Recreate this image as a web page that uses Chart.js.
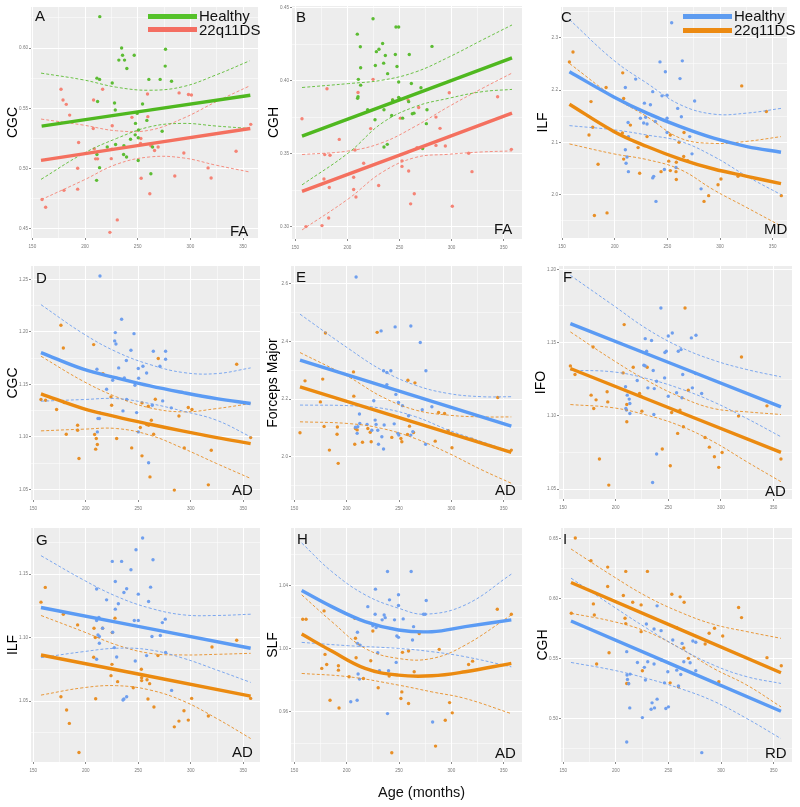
<!DOCTYPE html>
<html>
<head>
<meta charset="utf-8">
<script src="https://cdn.jsdelivr.net/npm/chart.js@4.4.1/dist/chart.umd.min.js"></script>
<style>
body{margin:0;background:#fff;width:800px;height:807px;position:relative;overflow:hidden;font-family:"Liberation Sans",Arial,sans-serif}
.box{position:absolute}
.txt{position:absolute;font-size:15px;line-height:1;color:#111;white-space:nowrap}
.sw{position:absolute;width:49px;height:5px}
</style>
</head>
<body>
<script>
// age ticks shared by every panel
const ageTicks = [150, 200, 250, 300, 350];

// ---- A : CGC FA ----
const aTicks = [0.45, 0.50, 0.55, 0.60];
const aHealthy = [[214,0.626],[234.7,0.600],[235.6,0.594],[232.1,0.590],[237.5,0.590],[246.7,0.594],[276.4,0.599],[276.1,0.585],[239.7,0.583],[211.3,0.575],[213.8,0.574],[225.8,0.571],[260.6,0.574],[271.3,0.574],[282.1,0.5725],[228,0.5544],[211.9,0.5556],[254.6,0.5536],[228.7,0.5486],[249.5,0.5458],[258.7,0.540],[247.9,0.5375],[273.2,0.531],[250.8,0.532],[247.6,0.528],[250.5,0.5256],[243.2,0.5244],[236.9,0.519],[221.1,0.518],[229,0.520],[264.1,0.518],[211.3,0.5117],[236.6,0.5117],[239.4,0.5097],[250.5,0.5067],[213.8,0.5008],[262.5,0.4958],[211,0.4903]];
const aPatient = [[177.2,0.5658],[179.1,0.5569],[182.2,0.5533],[185.4,0.5444],[208.1,0.5569],[216.7,0.5658],[207.8,0.5333],[225.8,0.5356],[244.5,0.5425],[259.3,0.5619],[259.6,0.5431],[289.3,0.5628],[298.2,0.5614],[301,0.5611],[357.3,0.5367],[193.9,0.5217],[208.8,0.5164],[210,0.5081],[211.9,0.5081],[224.9,0.5083],[225.5,0.5161],[253,0.525],[252.7,0.5208],[262.5,0.5189],[266,0.515],[269.4,0.518],[193,0.5003],[253.3,0.492],[293.8,0.513],[285.2,0.4939],[316.8,0.5006],[319.7,0.4922],[343.4,0.5144],[180,0.482],[193,0.483],[159.2,0.4744],[162.6,0.468],[261.5,0.4792],[230.6,0.4575],[223.6,0.4472]];
const aHealthyFit = [[158.8,0.5353],[356.9,0.5608]];
const aHealthyHi = [[158.2,0.5792],[198.3,0.5736],[229.9,0.5675],[261.5,0.565],[293.1,0.568],[324.7,0.5778],[356.3,0.5894]];
const aHealthyLo = [[158.2,0.4911],[198.3,0.5125],[229.9,0.525],[261.5,0.5347],[293.1,0.5375],[324.7,0.5353],[356.3,0.5333]];
const aPatientFit = [[158.2,0.5069],[356.9,0.5333]];
const aPatientHi = [[158.2,0.5411],[198.3,0.5361],[229.9,0.5314],[261.5,0.5319],[293.1,0.5417],[324.7,0.5556],[356.3,0.5686]];
const aPatientLo = [[158.2,0.4742],[198.3,0.4903],[229.9,0.5036],[261.5,0.5097],[293.1,0.5089],[324.7,0.5028],[356.3,0.4972]];

// ---- B : CGH FA ----
const bTicks = [0.30, 0.35, 0.40, 0.45];
const bHealthy = [[224.6,0.4426],[249.2,0.4369],[246.6,0.4369],[209.5,0.4320],[233.8,0.4256],[212.4,0.4234],[230.3,0.4216],[227.8,0.4200],[281.2,0.4236],[236.4,0.4173],[246,0.4180],[259.4,0.4180],[234.8,0.4121],[226.8,0.4105],[247.6,0.4098],[212.7,0.4089],[238.6,0.4049],[210.5,0.4010],[249.2,0.3992],[212.7,0.3970],[261.4,0.3981],[270.6,0.3952],[210.2,0.3891],[209.8,0.3880],[249.2,0.3886],[250.2,0.3877],[258.8,0.3857],[243.4,0.3868],[235.1,0.3801],[219.4,0.3801],[263.9,0.3778],[262.3,0.3774],[276.4,0.3801],[242.5,0.3762],[226.5,0.3733],[253,0.3744],[275.8,0.3706],[238.3,0.3564],[235.1,0.3546],[272.2,0.3535]];
const bPatient = [[156.4,0.3740],[180.4,0.3945],[224.6,0.4010],[210.2,0.3920],[243.4,0.3868],[258.2,0.3868],[268.4,0.3817],[285,0.3751],[297.8,0.3918],[344.2,0.3891],[222.3,0.3672],[192.2,0.3598],[207.3,0.3525],[178.2,0.3494],[183.3,0.3489],[215.6,0.3435],[252.4,0.3451],[252.4,0.3413],[258.8,0.3381],[266.8,0.3541],[285,0.3557],[288.9,0.3674],[294,0.3553],[316.4,0.3503],[357.4,0.3530],[177.5,0.3327],[206,0.3338],[230,0.3282],[182.6,0.3268],[206,0.3255],[208.2,0.3203],[264.2,0.3225],[260.7,0.3156],[319.6,0.3377],[300.7,0.3140],[182,0.3059],[160.2,0.3000],[175.6,0.3007],[250.8,0.3744]];
const bHealthyFit = [[156.4,0.3620],[358,0.4157]];
const bHealthyHi = [[156.4,0.3954],[201.2,0.3981],[233.2,0.4004],[265.2,0.4060],[297.2,0.4162],[329.2,0.4279],[358,0.4383]];
const bHealthyLo = [[156.4,0.3286],[201.2,0.3507],[233.2,0.3710],[265.2,0.3823],[297.2,0.3880],[329.2,0.3925],[358,0.3941]];
const bPatientFit = [[156.4,0.3241],[358,0.3778]];
const bPatientHi = [[156.4,0.3494],[201.2,0.3519],[233.2,0.3575],[265.2,0.3688],[297.2,0.3823],[329.2,0.3947],[358,0.4053]];
const bPatientLo = [[156.4,0.2977],[201.2,0.3192],[233.2,0.3372],[265.2,0.3474],[297.2,0.3496],[329.2,0.3512],[358,0.3519]];

// ---- C : ILF MD ----
const cTicks = [2.0, 2.1, 2.2, 2.3];
const cHealthy = [[254.1,2.329],[243,2.254],[264.2,2.256],[248.1,2.235],[262,2.222],[219.9,2.221],[210.1,2.205],[236.1,2.197],[244.9,2.189],[249.7,2.190],[275.9,2.179],[228.2,2.175],[233.9,2.172],[259.8,2.165],[263.3,2.149],[249.7,2.146],[229.4,2.148],[224.4,2.146],[227.5,2.137],[230.7,2.135],[238.6,2.140],[212.7,2.138],[213,2.111],[249.7,2.119],[271.2,2.111],[210.1,2.086],[211.7,2.072],[210.8,2.060],[213,2.044],[237,2.035],[236.1,2.032],[247.2,2.048],[258.2,2.052],[273.4,2.078],[282,2.011],[239.2,1.987]];
const cPatient = [[160.4,2.273],[157,2.254],[207.6,2.233],[191.8,2.205],[208.5,2.184],[177.5,2.178],[179.1,2.129],[175.6,2.114],[214.9,2.133],[207.3,2.118],[222.2,2.090],[230.7,2.111],[252.8,2.114],[261.1,2.100],[265.8,2.119],[269.3,2.065],[251.3,2.064],[258.5,2.062],[252.8,2.046],[258.2,2.044],[258.5,2.029],[244,2.044],[223.7,2.041],[208.5,2.068],[184.2,2.058],[320.6,2.208],[344,2.159],[317.1,2.035],[300.9,2.030],[298.1,2.019],[289.2,1.998],[284.8,1.987],[358.2,1.998],[180.7,1.960],[192.7,1.965],[265.5,2.073]];
const cHealthyFit = [[157,2.235],[199.1,2.187],[230.7,2.156],[262.3,2.130],[294,2.108],[325.6,2.092],[357.9,2.081]];
const cHealthyHi = [[157,2.335],[199.1,2.257],[230.7,2.213],[262.3,2.172],[294,2.154],[325.6,2.156],[357.9,2.165]];
const cHealthyLo = [[157,2.132],[199.1,2.124],[230.7,2.114],[262.3,2.102],[294,2.073],[325.6,2.035],[357.9,2.000]];
const cPatientFit = [[157,2.173],[199.1,2.121],[230.7,2.092],[262.3,2.068],[294,2.049],[325.6,2.035],[357.9,2.021]];
const cPatientHi = [[157,2.251],[199.1,2.187],[230.7,2.149],[262.3,2.108],[294,2.098],[325.6,2.102],[357.9,2.111]];
const cPatientLo = [[157,2.097],[199.1,2.078],[230.7,2.067],[262.3,2.048],[294,2.009],[325.6,1.975],[357.9,1.940]];

// ---- D : CGC AD ----
const dTicks = [1.05, 1.10, 1.15, 1.20, 1.25];
const dHealthy = [[213.5,1.2532],[234.1,1.2120],[228.1,1.1993],[245.9,1.1983],[227.5,1.1914],[228.7,1.1885],[243,1.1825],[238.6,1.1727],[231.3,1.1657],[250,1.1651],[254.4,1.1673],[264.3,1.1815],[276,1.1815],[276,1.1739],[270.6,1.1673],[257.9,1.1609],[225.6,1.1540],[236.7,1.1562],[236.3,1.1549],[250.3,1.1559],[246.8,1.1492],[219.8,1.1454],[238.9,1.1356],[263.3,1.1302],[273.2,1.1343],[248.4,1.1232],[235.4,1.1248],[212.9,1.1232],[211.6,1.1175],[212.9,1.1175],[211,1.1048],[250,1.1048],[281.4,1.1277],[259.8,1.0754],[210.6,1.1644]];
const dPatient = [[176.3,1.2063],[207.5,1.1879],[178.6,1.1847],[216.3,1.1603],[157.3,1.1356],[161.7,1.1349],[179.5,1.1327],[172.2,1.1261],[224,1.1381],[224.6,1.1302],[253.5,1.1324],[259.5,1.1292],[266.2,1.1359],[269,1.1746],[297.6,1.1280],[301.1,1.1261],[288.7,1.1200],[343.7,1.1692],[357,1.0994],[181.4,1.1026],[192.2,1.1112],[192.2,1.1064],[208.4,1.1023],[210,1.0985],[211,1.0928],[209.4,1.0884],[229.4,1.0985],[243.7,1.0896],[253.5,1.0820],[251.9,1.1090],[257.9,1.1118],[262.4,1.1159],[264.6,1.1026],[259.8,1.1112],[293.8,1.0896],[319.5,1.0874],[193.5,1.0795],[261.1,1.0620],[284.3,1.0494],[316.7,1.0544]];
const dHealthyFit = [[157.3,1.1803],[197.6,1.1645],[229.4,1.1562],[261.1,1.1486],[292.9,1.1422],[324.6,1.1365],[357,1.1318]];
const dHealthyHi = [[157.3,1.2259],[197.6,1.1983],[229.4,1.1809],[261.1,1.1689],[292.9,1.1613],[324.6,1.1603],[357,1.1657]];
const dHealthyLo = [[157.3,1.1340],[197.6,1.1356],[229.4,1.1365],[261.1,1.1318],[292.9,1.1245],[324.6,1.1159],[357,1.1001]];
const dPatientFit = [[157.3,1.1410],[197.6,1.1270],[229.4,1.1191],[261.1,1.1121],[292.9,1.1055],[324.6,1.0994],[357,1.0937]];
const dPatientHi = [[157.3,1.1768],[197.6,1.1530],[229.4,1.1381],[261.1,1.1277],[292.9,1.1239],[324.6,1.1270],[357,1.1318]];
const dPatientLo = [[157.3,1.1058],[197.6,1.1074],[229.4,1.1080],[261.1,1.1017],[292.9,1.0890],[324.6,1.0747],[357,1.0605]];

// ---- E : Forceps Major AD ----
const eTicks = [2.0, 2.2, 2.4, 2.6];
const eHealthy = [[209,2.623],[246.3,2.450],[261.3,2.453],[232.9,2.436],[270.3,2.396],[235.2,2.298],[238.4,2.292],[242.2,2.298],[275.7,2.298],[238.4,2.250],[247,2.216],[249.5,2.188],[253.3,2.177],[225.9,2.194],[259.1,2.142],[281.4,2.173],[272.2,2.163],[212.2,2.148],[212.5,2.115],[210.6,2.104],[208.4,2.102],[210,2.081],[219.5,2.112],[227.2,2.127],[228.1,2.112],[229.7,2.092],[235.8,2.110],[245.4,2.114],[248.9,2.081],[249.8,2.075],[263.2,2.087],[261.3,2.075],[233.6,2.069],[230.4,2.043],[235.2,2.027],[275.4,2.043],[224,2.092]];
const ePatient = [[179.7,2.429],[229.1,2.431],[206.5,2.294],[177.1,2.269],[160.2,2.263],[258.5,2.265],[265.2,2.256],[206.8,2.210],[174.9,2.190],[178.4,2.105],[191.1,2.103],[190.8,2.078],[155.4,2.083],[207.7,2.043],[183.5,2.023],[191.9,1.977],[215.1,2.050],[223.4,2.052],[222.5,2.085],[220.2,2.098],[243.1,2.067],[251.8,2.063],[252.7,2.052],[260,2.106],[263.9,2.084],[258.1,2.077],[284.6,2.054],[287.8,2.153],[293.5,2.150],[297,2.090],[300.6,2.031],[319.7,2.061],[344.3,2.205],[357.3,2.023],[208.4,2.098],[210,2.093]];
const eHealthyFit = [[155.4,2.335],[357.3,2.106]];
const eHealthyHi = [[155.4,2.494],[201.7,2.375],[233.6,2.300],[265.5,2.248],[297.4,2.219],[329.3,2.208],[357.3,2.208]];
const eHealthyLo = [[155.4,2.179],[201.7,2.177],[233.6,2.168],[265.5,2.139],[297.4,2.092],[329.3,2.052],[357.3,2.017]];
const ePatientFit = [[155.4,2.242],[357.3,2.015]];
const ePatientHi = [[155.4,2.361],[201.7,2.277],[233.6,2.208],[265.5,2.162],[297.4,2.144],[329.3,2.138],[357.3,2.138]];
const ePatientLo = [[155.4,2.121],[201.7,2.115],[233.6,2.098],[265.5,2.063],[297.4,2.012],[329.3,1.954],[357.3,1.908]];

// ---- F : IFO AD ----
const fTicks = [1.05, 1.10, 1.15, 1.20];
const fHealthy = [[243,1.1736],[250,1.1545],[253.8,1.1566],[271.9,1.1532],[276.3,1.1550],[228.1,1.1527],[234.1,1.1514],[229.4,1.1441],[246.8,1.1432],[248.1,1.1441],[259.5,1.1441],[262.1,1.1452],[226.8,1.1345],[228.1,1.1341],[235.7,1.1309],[246.5,1.1259],[263.7,1.1282],[276,1.1289],[220.5,1.1241],[238.9,1.1236],[230.6,1.1191],[236.7,1.1186],[209.4,1.1198],[211,1.1141],[212.9,1.1114],[250,1.1134],[257.9,1.1157],[263,1.1123],[272.9,1.1191],[281.7,1.1152],[209.7,1.1050],[210.3,1.1039],[213.5,1.1016],[236.3,1.1009],[238.9,1.0739],[235.1,1.0545],[213.5,1.1084]];
const fPatient = [[208.1,1.1623],[265.9,1.1736],[319.5,1.1402],[178.6,1.1470],[157,1.1341],[161.4,1.1282],[207.1,1.1293],[216.7,1.1332],[230,1.1332],[222.7,1.1152],[176.7,1.1141],[181.4,1.1109],[179.2,1.1050],[191.9,1.1164],[192.5,1.1095],[210.6,1.1077],[210.6,1.0959],[224.9,1.1032],[253.2,1.1023],[261.1,1.1039],[269,1.1175],[264.3,1.0925],[258.9,1.0880],[284.9,1.0852],[289,1.0786],[293.8,1.0720],[297.9,1.0648],[301.1,1.0750],[316.7,1.0998],[343.7,1.1068],[357,1.0705],[244.3,1.0773],[251.9,1.0659],[184.6,1.0705],[193.5,1.0527],[224,1.1134]];
const fHealthyFit = [[157,1.1630],[357,1.1061]];
const fHealthyHi = [[157,1.1959],[197.6,1.1755],[229.4,1.1595],[261.1,1.1470],[292.9,1.1380],[324.6,1.1316],[357,1.1266]];
const fHealthyLo = [[157,1.1311],[197.6,1.1300],[229.4,1.1255],[261.1,1.1186],[292.9,1.1095],[324.6,1.0982],[357,1.0857]];
const fPatientFit = [[157,1.1323],[357,1.0750]];
const fPatientHi = [[157,1.1573],[197.6,1.1380],[229.4,1.1243],[261.1,1.1130],[292.9,1.1050],[324.6,1.1027],[357,1.1009]];
const fPatientLo = [[157,1.1077],[197.6,1.1055],[229.4,1.1005],[261.1,1.0932],[292.9,1.0823],[324.6,1.0686],[357,1.0550]];

// ---- G : ILF AD ----
const gTicks = [1.05, 1.10, 1.15];
const gHealthy = [[254.1,1.1784],[247.8,1.1692],[225.2,1.1600],[234.1,1.1600],[264,1.1613],[243,1.1534],[228.1,1.1442],[261.7,1.1397],[210.3,1.1382],[238.9,1.1384],[236.3,1.1355],[250,1.1342],[219.8,1.1297],[259.8,1.1284],[231,1.1266],[228.1,1.1224],[212.5,1.1158],[210.3,1.1134],[246.2,1.1134],[250,1.1134],[275.7,1.1145],[272.9,1.1118],[216,1.1074],[225.6,1.1042],[211.6,1.1021],[212.9,1.1008],[263,1.1008],[271,1.1016],[212.9,1.0955],[227.1,1.0921],[210.3,1.0829],[247.1,1.0816],[257.9,1.0858],[276,1.0882],[229.4,1.0847],[281.7,1.0584],[238.9,1.0534],[236.3,1.0516],[235.4,1.0508]];
const gPatient = [[161.4,1.1395],[157.3,1.1279],[178.6,1.1184],[192.2,1.1100],[207.8,1.1074],[216,1.1074],[225.2,1.1039],[209,1.1000],[207.5,1.0845],[224.9,1.0789],[224,1.0700],[230.3,1.0653],[245.2,1.0605],[252.9,1.0750],[253.2,1.0684],[253.2,1.0661],[258.3,1.0668],[260.8,1.0637],[268.7,1.0858],[320.2,1.0926],[343.7,1.0979],[176.3,1.0534],[209.4,1.0518],[181.7,1.0429],[184.3,1.0324],[193.5,1.0095],[259.2,1.0516],[264.9,1.0453],[293.5,1.0424],[300.8,1.0521],[288.7,1.0342],[284.3,1.0297],[297.6,1.0350],[316.7,1.0382],[357,1.0521],[227.8,1.1153]];
const gHealthyFit = [[157.3,1.1237],[357,1.0916]];
const gHealthyHi = [[157.3,1.1645],[197.6,1.1455],[229.4,1.1324],[261.1,1.1232],[292.9,1.1179],[324.6,1.1174],[357,1.1184]];
const gHealthyLo = [[157.3,1.0842],[197.6,1.0889],[229.4,1.0916],[261.1,1.0903],[292.9,1.0837],[324.6,1.0745],[357,1.0647]];
const gPatientFit = [[157.3,1.0863],[357,1.0539]];
const gPatientHi = [[157.3,1.1174],[197.6,1.1047],[229.4,1.0942],[261.1,1.0876],[292.9,1.0863],[324.6,1.0868],[357,1.0876]];
const gPatientLo = [[157.3,1.0547],[197.6,1.0605],[229.4,1.0621],[261.1,1.0587],[292.9,1.0500],[324.6,1.0363],[357,1.0205]];

// ---- H : SLF AD ----
const hTicks = [0.96, 1.00, 1.04];
const hHealthy = [[239,1.0491],[261.6,1.0491],[227.5,1.0379],[240.9,1.0311],[249.5,1.0343],[249.5,1.0275],[276,1.0307],[220.2,1.0268],[227.2,1.0220],[235.8,1.0215],[236.8,1.0198],[233.9,1.0184],[245.7,1.0184],[254,1.0190],[275,1.0220],[273.4,1.0220],[225,1.0147],[228.1,1.0135],[210.3,1.0105],[263.9,1.0141],[247.9,1.0082],[249.5,1.0073],[262.9,1.0056],[210.3,1.0035],[212.8,1.0024],[229.7,0.9976],[247.3,0.9914],[240,0.9861],[231.3,0.9861],[210.9,0.9840],[212.2,0.9808],[210,0.9674],[203.9,0.9664],[239,0.9589],[282.1,0.9536]];
const hPatient = [[158,1.0188],[161.2,1.0188],[178.4,1.0241],[207.7,1.0194],[225,1.0113],[208.4,1.0067],[179.3,0.9965],[180.9,0.9901],[176.2,0.9876],[192.1,0.9893],[192.1,0.9865],[209,0.9944],[223,0.9925],[216,0.9812],[230.1,0.9753],[240.6,0.9827],[253.3,0.9978],[259.1,0.9986],[264.5,0.9855],[269.3,1.0097],[288.4,0.9997],[316.5,0.9901],[320.3,0.9922],[343.9,1.0251],[357.3,1.0220],[252.7,0.9727],[251.8,0.9685],[259.1,0.9653],[184.1,0.9674],[192.7,0.9625],[298.3,0.9659],[300.9,0.9594],[294.2,0.9547],[284.9,0.9383],[243.1,0.9341],[202.3,0.9823]];
const hHealthyFit = [[157,1.0370],[185.7,1.0268],[217.6,1.0173],[249.5,1.0120],[281.4,1.0109],[313.3,1.0141],[357.3,1.0184]];
const hHealthyHi = [[157,1.0672],[185.7,1.0491],[217.6,1.0343],[249.5,1.0258],[275,1.0220],[313.3,1.0279],[357.3,1.0474]];
const hHealthyLo = [[157,1.0041],[201.7,1.0020],[249.5,1.0003],[281.4,0.9982],[313.3,0.9950],[357.3,0.9886]];
const hPatientFit = [[157,1.0094],[185.7,0.9986],[217.6,0.9876],[249.5,0.9833],[281.4,0.9829],[313.3,0.9855],[357.3,0.9908]];
const hPatientHi = [[157,1.0343],[185.7,1.0173],[217.6,1.0003],[249.5,0.9939],[281.4,0.9939],[313.3,1.0024],[357.3,1.0215]];
const hPatientLo = [[157,0.9844],[201.7,0.9823],[249.5,0.9770],[281.4,0.9727],[313.3,0.9685],[357.3,0.9589]];

// ---- I : CGH RD ----
const iTicks = [0.50, 0.55, 0.60, 0.65];
const iHealthy = [[239.2,0.5940],[229,0.5789],[236.3,0.5747],[243,0.5733],[254.1,0.5655],[273.2,0.5647],[276,0.5636],[263,0.5627],[210.3,0.5558],[230.3,0.5474],[236.3,0.5455],[220.5,0.5468],[227.1,0.5427],[243.3,0.5488],[270.6,0.5466],[264.6,0.5474],[257.9,0.5404],[261.7,0.5368],[276,0.5399],[249.4,0.5390],[210.6,0.5363],[213.5,0.5371],[211,0.5326],[212.2,0.5290],[228.1,0.5321],[246.2,0.5298],[259.5,0.5273],[213.2,0.5089],[233.5,0.5078],[236.7,0.5089],[239.2,0.5162],[234.4,0.5131],[247.5,0.5084],[250,0.5098],[225.2,0.5008],[210.3,0.4805],[281.7,0.4716]];
const iPatient = [[161.4,0.6506],[176.3,0.6316],[192.2,0.6263],[209.4,0.6227],[230,0.6227],[192.2,0.6101],[207.1,0.6026],[253.2,0.6037],[261.1,0.6015],[264.9,0.5970],[216,0.5970],[224,0.5948],[178.6,0.5956],[179.5,0.5864],[157.6,0.5878],[208.7,0.5836],[209.4,0.5792],[224,0.5725],[257.9,0.5758],[319.5,0.5842],[316.7,0.5926],[293.8,0.5753],[288.7,0.5711],[301.6,0.5689],[264.6,0.5588],[284.9,0.5622],[269,0.5502],[193.5,0.5549],[181.7,0.5455],[225.2,0.5399],[210.3,0.5293],[211.9,0.5293],[251.6,0.5298],[259.5,0.5265],[297.9,0.5307],[343.7,0.5508],[357.3,0.5441]];
const iHealthyFit = [[157.3,0.5814],[357,0.5061]];
const iHealthyHi = [[157.3,0.6171],[197.6,0.5934],[229.4,0.5753],[261.1,0.5586],[292.9,0.5446],[324.6,0.5349],[357,0.5293]];
const iHealthyLo = [[157.3,0.5468],[197.6,0.5404],[229.4,0.5335],[261.1,0.5251],[292.9,0.5145],[324.6,0.5000],[357,0.4833]];
const iPatientFit = [[157.3,0.6135],[357,0.5382]];
const iPatientHi = [[157.3,0.6414],[197.6,0.6185],[229.4,0.6018],[261.1,0.5887],[292.9,0.5786],[324.6,0.5725],[357,0.5669]];
const iPatientLo = [[157.3,0.5878],[197.6,0.5809],[229.4,0.5725],[261.1,0.5586],[292.9,0.5418],[324.6,0.5279],[357,0.5098]];

// colour pairs: [healthy, 22q11DS]
const fa = {h: '#4fb81f', p: '#f4705f', hp: '#5cbc33', pp: '#f58375'};
const ad = {h: '#5b9bf4', p: '#eb8a10', hp: '#6f9fee', pp: '#e88f26'};

const panels = [
  {L:'A', m:'FA', left:31, top:7, w:227, h:231, x:[148.7,364.2], y:[0.4425,0.634], t:aTicks, d:2, title:'CGC', c:fa,
   s:[aHealthy,aHealthyFit,aHealthyHi,aHealthyLo,aPatient,aPatientFit,aPatientHi,aPatientLo], lx:35, ly:8, mx:230, my:223},
  {L:'B', m:'FA', left:292, top:6, w:230, h:233, x:[146.8,367.6], y:[0.2915,0.4513], t:bTicks, d:2, title:'CGH', c:fa,
   s:[bHealthy,bHealthyFit,bHealthyHi,bHealthyLo,bPatient,bPatientFit,bPatientHi,bPatientLo], lx:296, ly:9, mx:494, my:221},
  {L:'C', m:'MD', left:561, top:7, w:226, h:231, x:[149,363.6], y:[1.917,2.359], t:cTicks, d:1, title:'ILF', c:ad,
   s:[cHealthy,cHealthyFit,cHealthyHi,cHealthyLo,cPatient,cPatientFit,cPatientHi,cPatientLo], lx:561, ly:9, mx:764, my:221},
  {L:'D', m:'AD', left:31, top:266, w:229, h:234, x:[147.8,365.9], y:[1.040,1.2627], t:dTicks, d:2, title:'CGC', c:ad,
   s:[dHealthy,dHealthyFit,dHealthyHi,dHealthyLo,dPatient,dPatientFit,dPatientHi,dPatientLo], lx:36, ly:270, mx:232, my:482},
  {L:'E', m:'AD', left:291, top:266, w:231, h:234, x:[146.8,367.5], y:[1.850,2.661], t:eTicks, d:1, title:'Forceps Major', c:ad,
   s:[eHealthy,eHealthyFit,eHealthyHi,eHealthyLo,ePatient,ePatientFit,ePatientHi,ePatientLo], lx:296, ly:269, mx:495, my:482},
  {L:'F', m:'AD', left:559, top:266, w:233, h:233, x:[146.2,367.5], y:[1.0432,1.2023], t:fTicks, d:2, title:'IFO', c:ad,
   s:[fHealthy,fHealthyFit,fHealthyHi,fHealthyLo,fPatient,fPatientFit,fPatientHi,fPatientLo], lx:563, ly:269, mx:765, my:483},
  {L:'G', m:'AD', left:31, top:528, w:229, h:234, x:[147.8,365.9], y:[1.002,1.1863], t:gTicks, d:2, title:'ILF', c:ad,
   s:[gHealthy,gHealthyFit,gHealthyHi,gHealthyLo,gPatient,gPatientFit,gPatientHi,gPatientLo], lx:36, ly:532, mx:232, my:744},
  {L:'H', m:'AD', left:291, top:528, w:231, h:234, x:[146.8,367.5], y:[0.9282,1.0767], t:hTicks, d:2, title:'SLF', c:ad,
   s:[hHealthy,hHealthyFit,hHealthyHi,hHealthyLo,hPatient,hPatientFit,hPatientHi,hPatientLo], lx:297, ly:531, mx:495, my:745},
  {L:'I', m:'RD', left:561, top:528, w:231, h:234, x:[147.8,367.5], y:[0.4638,0.6589], t:iTicks, d:2, title:'CGH', c:ad,
   s:[iHealthy,iHealthyFit,iHealthyHi,iHealthyLo,iPatient,iPatientFit,iPatientHi,iPatientLo], lx:563, ly:531, mx:765, my:745}
];

const P = arr => arr.map(v => ({x: v[0], y: v[1]}));

const plotBg = {
  id: 'plotBg',
  beforeDraw(chart) {
    const a = chart.chartArea, g = chart.ctx;
    g.save(); g.fillStyle = '#ededed';
    g.fillRect(a.left, a.top, a.right - a.left, a.bottom - a.top);
    g.restore();
  }
};

function withMinor(major, lo, hi) {
  const step = major[1] - major[0];
  let out = [];
  major.forEach(v => { out.push({v: v, major: true}); out.push({v: v + step / 2, major: false}); });
  out.push({v: major[0] - step / 2, major: false});
  return out.filter(o => o.v >= lo && o.v <= hi).sort((a, b) => a.v - b.v);
}

function axis(ticks, range, dec, isX, title) {
  const list = withMinor(ticks, range[0], range[1]);
  const isMajor = v => list.some(o => o.major && Math.abs(o.v - v) < 1e-7);
  const ax = {
    type: 'linear', min: range[0], max: range[1],
    afterBuildTicks: s => { s.ticks = list.map(o => ({value: o.v})); },
    ticks: {
      autoSkip: false, maxRotation: 0, color: '#7a7a7a',
      font: {size: 4.6, family: 'Liberation Sans'},
      padding: isX ? 4 : 1,
      callback: v => isMajor(v) ? (isX ? String(Math.round(v)) : v.toFixed(dec)) : ''
    },
    grid: {
      drawTicks: true, tickLength: 2,
      color: c => '#ffffff',
      lineWidth: c => (c.tick && isMajor(c.tick.value)) ? 1 : 0.5,
      tickColor: c => (c.tick && isMajor(c.tick.value)) ? '#8a8a8a' : 'rgba(0,0,0,0)'
    },
    border: {display: false},
    afterFit: s => { if (isX) s.height = 14; else s.width = 31; }
  };
  if (title) {
    ax.title = {display: true, text: title, color: '#000', padding: {top: 4.5, bottom: 0},
      font: {size: 14, family: 'Liberation Sans'}};
  }
  return ax;
}

function makePanel(p) {
  const wrap = document.createElement('div');
  wrap.className = 'box';
  const W = p.w + 39, H = p.h + 19;
  wrap.style.left = (p.left - 31) + 'px';
  wrap.style.top = (p.top - 5) + 'px';
  wrap.style.width = W + 'px';
  wrap.style.height = H + 'px';
  const cv = document.createElement('canvas');
  cv.width = W; cv.height = H;
  cv.style.width = W + 'px'; cv.style.height = H + 'px';
  wrap.appendChild(cv);
  document.body.appendChild(wrap);

  const pts = (d, col) => ({data: P(d), showLine: false, pointRadius: 1.7, pointBackgroundColor: col,
    pointBorderWidth: 0, order: 3});
  const fit = (d, col) => ({data: P(d), showLine: true, borderColor: col, borderWidth: 3.4, pointRadius: 0,
    tension: 0.4, order: 0});
  const band = (d, col) => ({data: P(d), showLine: true, borderColor: col, borderWidth: 0.9,
    borderDash: [3, 2], pointRadius: 0, tension: 0.4, order: 1});
  const c = p.c, s = p.s;

  new Chart(cv, {
    type: 'scatter',
    data: {datasets: [
      pts(s[0], c.hp), fit(s[1], c.h), band(s[2], c.hp), band(s[3], c.hp),
      pts(s[4], c.pp), fit(s[5], c.p), band(s[6], c.pp), band(s[7], c.pp)
    ]},
    options: {
      responsive: false, animation: false, events: [],
      layout: {padding: {left: 0, top: 5, right: 8, bottom: 0}},
      plugins: {legend: {display: false}, tooltip: {enabled: false}},
      scales: {
        x: axis(ageTicks, p.x, 0, true, null),
        y: axis(p.t, p.y, p.d, false, p.title)
      }
    },
    plugins: [plotBg]
  });

  addText(p.L, p.lx, p.ly, 15);
  addText(p.m, p.mx, p.my, 15);
}

function addText(str, x, y, size) {
  const d = document.createElement('div');
  d.className = 'txt';
  d.style.left = x + 'px'; d.style.top = y + 'px'; d.style.fontSize = size + 'px';
  d.textContent = str;
  document.body.appendChild(d);
}

function addSwatch(col, x, y) {
  const d = document.createElement('div');
  d.className = 'sw';
  d.style.left = x + 'px'; d.style.top = y + 'px'; d.style.background = col;
  document.body.appendChild(d);
}

panels.forEach(makePanel);

// legends
addSwatch('#55c22a', 148, 13.5); addText('Healthy', 199, 8, 15);
addSwatch('#f46e62', 148, 26.5); addText('22q11DS', 199, 22, 15);
addSwatch('#5e9cf0', 683, 14); addText('Healthy', 734, 8, 15);
addSwatch('#ec8a12', 683, 28); addText('22q11DS', 734, 22, 15);

addText('Age (months)', 378, 785, 14.5);
</script>
</body>
</html>
